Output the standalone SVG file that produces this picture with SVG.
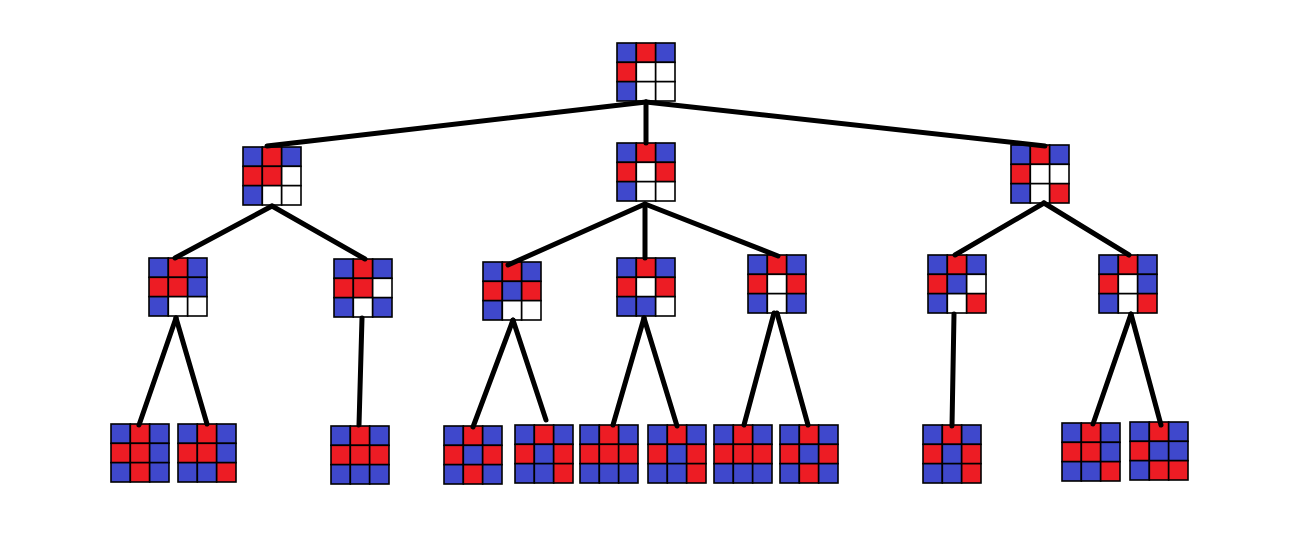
<svg xmlns="http://www.w3.org/2000/svg" width="1313" height="544" viewBox="0 0 1313 544">
  <style>
    .b { fill: #3f48cc; }
    .r { fill: #ed1c24; }
    .w { fill: #ffffff; }
    .node rect { stroke: #000; stroke-width: 1.6; }
    .edges line { stroke: #000; stroke-width: 5; stroke-linecap: round; }
  </style>
  <rect width="1313" height="544" fill="#fff"/>

  <!-- level 0 -->
  <g id="n0" class="node" transform="translate(617,43)">
    <rect class="b" x="0" y="0" width="19.33" height="19.33"/><rect class="r" x="19.33" y="0" width="19.33" height="19.33"/><rect class="b" x="38.67" y="0" width="19.33" height="19.33"/>
    <rect class="r" x="0" y="19.33" width="19.33" height="19.33"/><rect class="w" x="19.33" y="19.33" width="19.33" height="19.33"/><rect class="w" x="38.67" y="19.33" width="19.33" height="19.33"/>
    <rect class="b" x="0" y="38.67" width="19.33" height="19.33"/><rect class="w" x="19.33" y="38.67" width="19.33" height="19.33"/><rect class="w" x="38.67" y="38.67" width="19.33" height="19.33"/>
  </g>

  <!-- level 1 -->
  <g id="n1a" class="node" transform="translate(243,147)">
    <rect class="b" x="0" y="0" width="19.33" height="19.33"/><rect class="r" x="19.33" y="0" width="19.33" height="19.33"/><rect class="b" x="38.67" y="0" width="19.33" height="19.33"/>
    <rect class="r" x="0" y="19.33" width="19.33" height="19.33"/><rect class="r" x="19.33" y="19.33" width="19.33" height="19.33"/><rect class="w" x="38.67" y="19.33" width="19.33" height="19.33"/>
    <rect class="b" x="0" y="38.67" width="19.33" height="19.33"/><rect class="w" x="19.33" y="38.67" width="19.33" height="19.33"/><rect class="w" x="38.67" y="38.67" width="19.33" height="19.33"/>
  </g>
  <g id="n1b" class="node" transform="translate(617,143)">
    <rect class="b" x="0" y="0" width="19.33" height="19.33"/><rect class="r" x="19.33" y="0" width="19.33" height="19.33"/><rect class="b" x="38.67" y="0" width="19.33" height="19.33"/>
    <rect class="r" x="0" y="19.33" width="19.33" height="19.33"/><rect class="w" x="19.33" y="19.33" width="19.33" height="19.33"/><rect class="r" x="38.67" y="19.33" width="19.33" height="19.33"/>
    <rect class="b" x="0" y="38.67" width="19.33" height="19.33"/><rect class="w" x="19.33" y="38.67" width="19.33" height="19.33"/><rect class="w" x="38.67" y="38.67" width="19.33" height="19.33"/>
  </g>
  <g id="n1c" class="node" transform="translate(1011,145)">
    <rect class="b" x="0" y="0" width="19.33" height="19.33"/><rect class="r" x="19.33" y="0" width="19.33" height="19.33"/><rect class="b" x="38.67" y="0" width="19.33" height="19.33"/>
    <rect class="r" x="0" y="19.33" width="19.33" height="19.33"/><rect class="w" x="19.33" y="19.33" width="19.33" height="19.33"/><rect class="w" x="38.67" y="19.33" width="19.33" height="19.33"/>
    <rect class="b" x="0" y="38.67" width="19.33" height="19.33"/><rect class="w" x="19.33" y="38.67" width="19.33" height="19.33"/><rect class="r" x="38.67" y="38.67" width="19.33" height="19.33"/>
  </g>

  <!-- level 2 -->
  <g id="n2a" class="node" transform="translate(149,258)">
    <rect class="b" x="0" y="0" width="19.33" height="19.33"/><rect class="r" x="19.33" y="0" width="19.33" height="19.33"/><rect class="b" x="38.67" y="0" width="19.33" height="19.33"/>
    <rect class="r" x="0" y="19.33" width="19.33" height="19.33"/><rect class="r" x="19.33" y="19.33" width="19.33" height="19.33"/><rect class="b" x="38.67" y="19.33" width="19.33" height="19.33"/>
    <rect class="b" x="0" y="38.67" width="19.33" height="19.33"/><rect class="w" x="19.33" y="38.67" width="19.33" height="19.33"/><rect class="w" x="38.67" y="38.67" width="19.33" height="19.33"/>
  </g>
  <g id="n2b" class="node" transform="translate(334,259)">
    <rect class="b" x="0" y="0" width="19.33" height="19.33"/><rect class="r" x="19.33" y="0" width="19.33" height="19.33"/><rect class="b" x="38.67" y="0" width="19.33" height="19.33"/>
    <rect class="r" x="0" y="19.33" width="19.33" height="19.33"/><rect class="r" x="19.33" y="19.33" width="19.33" height="19.33"/><rect class="w" x="38.67" y="19.33" width="19.33" height="19.33"/>
    <rect class="b" x="0" y="38.67" width="19.33" height="19.33"/><rect class="w" x="19.33" y="38.67" width="19.33" height="19.33"/><rect class="b" x="38.67" y="38.67" width="19.33" height="19.33"/>
  </g>
  <g id="n2c" class="node" transform="translate(483,262)">
    <rect class="b" x="0" y="0" width="19.33" height="19.33"/><rect class="r" x="19.33" y="0" width="19.33" height="19.33"/><rect class="b" x="38.67" y="0" width="19.33" height="19.33"/>
    <rect class="r" x="0" y="19.33" width="19.33" height="19.33"/><rect class="b" x="19.33" y="19.33" width="19.33" height="19.33"/><rect class="r" x="38.67" y="19.33" width="19.33" height="19.33"/>
    <rect class="b" x="0" y="38.67" width="19.33" height="19.33"/><rect class="w" x="19.33" y="38.67" width="19.33" height="19.33"/><rect class="w" x="38.67" y="38.67" width="19.33" height="19.33"/>
  </g>
  <g id="n2d" class="node" transform="translate(617,258)">
    <rect class="b" x="0" y="0" width="19.33" height="19.33"/><rect class="r" x="19.33" y="0" width="19.33" height="19.33"/><rect class="b" x="38.67" y="0" width="19.33" height="19.33"/>
    <rect class="r" x="0" y="19.33" width="19.33" height="19.33"/><rect class="w" x="19.33" y="19.33" width="19.33" height="19.33"/><rect class="r" x="38.67" y="19.33" width="19.33" height="19.33"/>
    <rect class="b" x="0" y="38.67" width="19.33" height="19.33"/><rect class="b" x="19.33" y="38.67" width="19.33" height="19.33"/><rect class="w" x="38.67" y="38.67" width="19.33" height="19.33"/>
  </g>
  <g id="n2e" class="node" transform="translate(748,255)">
    <rect class="b" x="0" y="0" width="19.33" height="19.33"/><rect class="r" x="19.33" y="0" width="19.33" height="19.33"/><rect class="b" x="38.67" y="0" width="19.33" height="19.33"/>
    <rect class="r" x="0" y="19.33" width="19.33" height="19.33"/><rect class="w" x="19.33" y="19.33" width="19.33" height="19.33"/><rect class="r" x="38.67" y="19.33" width="19.33" height="19.33"/>
    <rect class="b" x="0" y="38.67" width="19.33" height="19.33"/><rect class="w" x="19.33" y="38.67" width="19.33" height="19.33"/><rect class="b" x="38.67" y="38.67" width="19.33" height="19.33"/>
  </g>
  <g id="n2f" class="node" transform="translate(928,255)">
    <rect class="b" x="0" y="0" width="19.33" height="19.33"/><rect class="r" x="19.33" y="0" width="19.33" height="19.33"/><rect class="b" x="38.67" y="0" width="19.33" height="19.33"/>
    <rect class="r" x="0" y="19.33" width="19.33" height="19.33"/><rect class="b" x="19.33" y="19.33" width="19.33" height="19.33"/><rect class="w" x="38.67" y="19.33" width="19.33" height="19.33"/>
    <rect class="b" x="0" y="38.67" width="19.33" height="19.33"/><rect class="w" x="19.33" y="38.67" width="19.33" height="19.33"/><rect class="r" x="38.67" y="38.67" width="19.33" height="19.33"/>
  </g>
  <g id="n2g" class="node" transform="translate(1099,255)">
    <rect class="b" x="0" y="0" width="19.33" height="19.33"/><rect class="r" x="19.33" y="0" width="19.33" height="19.33"/><rect class="b" x="38.67" y="0" width="19.33" height="19.33"/>
    <rect class="r" x="0" y="19.33" width="19.33" height="19.33"/><rect class="w" x="19.33" y="19.33" width="19.33" height="19.33"/><rect class="b" x="38.67" y="19.33" width="19.33" height="19.33"/>
    <rect class="b" x="0" y="38.67" width="19.33" height="19.33"/><rect class="w" x="19.33" y="38.67" width="19.33" height="19.33"/><rect class="r" x="38.67" y="38.67" width="19.33" height="19.33"/>
  </g>

  <!-- level 3 (leaves) -->
  <g id="n3a" class="node" transform="translate(111,424)">
    <rect class="b" x="0" y="0" width="19.33" height="19.33"/><rect class="r" x="19.33" y="0" width="19.33" height="19.33"/><rect class="b" x="38.67" y="0" width="19.33" height="19.33"/>
    <rect class="r" x="0" y="19.33" width="19.33" height="19.33"/><rect class="r" x="19.33" y="19.33" width="19.33" height="19.33"/><rect class="b" x="38.67" y="19.33" width="19.33" height="19.33"/>
    <rect class="b" x="0" y="38.67" width="19.33" height="19.33"/><rect class="r" x="19.33" y="38.67" width="19.33" height="19.33"/><rect class="b" x="38.67" y="38.67" width="19.33" height="19.33"/>
  </g>
  <g id="n3b" class="node" transform="translate(178,424)">
    <rect class="b" x="0" y="0" width="19.33" height="19.33"/><rect class="r" x="19.33" y="0" width="19.33" height="19.33"/><rect class="b" x="38.67" y="0" width="19.33" height="19.33"/>
    <rect class="r" x="0" y="19.33" width="19.33" height="19.33"/><rect class="r" x="19.33" y="19.33" width="19.33" height="19.33"/><rect class="b" x="38.67" y="19.33" width="19.33" height="19.33"/>
    <rect class="b" x="0" y="38.67" width="19.33" height="19.33"/><rect class="b" x="19.33" y="38.67" width="19.33" height="19.33"/><rect class="r" x="38.67" y="38.67" width="19.33" height="19.33"/>
  </g>
  <g id="n3c" class="node" transform="translate(331,426)">
    <rect class="b" x="0" y="0" width="19.33" height="19.33"/><rect class="r" x="19.33" y="0" width="19.33" height="19.33"/><rect class="b" x="38.67" y="0" width="19.33" height="19.33"/>
    <rect class="r" x="0" y="19.33" width="19.33" height="19.33"/><rect class="r" x="19.33" y="19.33" width="19.33" height="19.33"/><rect class="r" x="38.67" y="19.33" width="19.33" height="19.33"/>
    <rect class="b" x="0" y="38.67" width="19.33" height="19.33"/><rect class="b" x="19.33" y="38.67" width="19.33" height="19.33"/><rect class="b" x="38.67" y="38.67" width="19.33" height="19.33"/>
  </g>
  <g id="n3d" class="node" transform="translate(444,426)">
    <rect class="b" x="0" y="0" width="19.33" height="19.33"/><rect class="r" x="19.33" y="0" width="19.33" height="19.33"/><rect class="b" x="38.67" y="0" width="19.33" height="19.33"/>
    <rect class="r" x="0" y="19.33" width="19.33" height="19.33"/><rect class="b" x="19.33" y="19.33" width="19.33" height="19.33"/><rect class="r" x="38.67" y="19.33" width="19.33" height="19.33"/>
    <rect class="b" x="0" y="38.67" width="19.33" height="19.33"/><rect class="r" x="19.33" y="38.67" width="19.33" height="19.33"/><rect class="b" x="38.67" y="38.67" width="19.33" height="19.33"/>
  </g>
  <g id="n3e" class="node" transform="translate(515,425)">
    <rect class="b" x="0" y="0" width="19.33" height="19.33"/><rect class="r" x="19.33" y="0" width="19.33" height="19.33"/><rect class="b" x="38.67" y="0" width="19.33" height="19.33"/>
    <rect class="r" x="0" y="19.33" width="19.33" height="19.33"/><rect class="b" x="19.33" y="19.33" width="19.33" height="19.33"/><rect class="r" x="38.67" y="19.33" width="19.33" height="19.33"/>
    <rect class="b" x="0" y="38.67" width="19.33" height="19.33"/><rect class="b" x="19.33" y="38.67" width="19.33" height="19.33"/><rect class="r" x="38.67" y="38.67" width="19.33" height="19.33"/>
  </g>
  <g id="n3f" class="node" transform="translate(580,425)">
    <rect class="b" x="0" y="0" width="19.33" height="19.33"/><rect class="r" x="19.33" y="0" width="19.33" height="19.33"/><rect class="b" x="38.67" y="0" width="19.33" height="19.33"/>
    <rect class="r" x="0" y="19.33" width="19.33" height="19.33"/><rect class="r" x="19.33" y="19.33" width="19.33" height="19.33"/><rect class="r" x="38.67" y="19.33" width="19.33" height="19.33"/>
    <rect class="b" x="0" y="38.67" width="19.33" height="19.33"/><rect class="b" x="19.33" y="38.67" width="19.33" height="19.33"/><rect class="b" x="38.67" y="38.67" width="19.33" height="19.33"/>
  </g>
  <g id="n3g" class="node" transform="translate(648,425)">
    <rect class="b" x="0" y="0" width="19.33" height="19.33"/><rect class="r" x="19.33" y="0" width="19.33" height="19.33"/><rect class="b" x="38.67" y="0" width="19.33" height="19.33"/>
    <rect class="r" x="0" y="19.33" width="19.33" height="19.33"/><rect class="b" x="19.33" y="19.33" width="19.33" height="19.33"/><rect class="r" x="38.67" y="19.33" width="19.33" height="19.33"/>
    <rect class="b" x="0" y="38.67" width="19.33" height="19.33"/><rect class="b" x="19.33" y="38.67" width="19.33" height="19.33"/><rect class="r" x="38.67" y="38.67" width="19.33" height="19.33"/>
  </g>
  <g id="n3h" class="node" transform="translate(714,425)">
    <rect class="b" x="0" y="0" width="19.33" height="19.33"/><rect class="r" x="19.33" y="0" width="19.33" height="19.33"/><rect class="b" x="38.67" y="0" width="19.33" height="19.33"/>
    <rect class="r" x="0" y="19.33" width="19.33" height="19.33"/><rect class="r" x="19.33" y="19.33" width="19.33" height="19.33"/><rect class="r" x="38.67" y="19.33" width="19.33" height="19.33"/>
    <rect class="b" x="0" y="38.67" width="19.33" height="19.33"/><rect class="b" x="19.33" y="38.67" width="19.33" height="19.33"/><rect class="b" x="38.67" y="38.67" width="19.33" height="19.33"/>
  </g>
  <g id="n3i" class="node" transform="translate(780,425)">
    <rect class="b" x="0" y="0" width="19.33" height="19.33"/><rect class="r" x="19.33" y="0" width="19.33" height="19.33"/><rect class="b" x="38.67" y="0" width="19.33" height="19.33"/>
    <rect class="r" x="0" y="19.33" width="19.33" height="19.33"/><rect class="b" x="19.33" y="19.33" width="19.33" height="19.33"/><rect class="r" x="38.67" y="19.33" width="19.33" height="19.33"/>
    <rect class="b" x="0" y="38.67" width="19.33" height="19.33"/><rect class="r" x="19.33" y="38.67" width="19.33" height="19.33"/><rect class="b" x="38.67" y="38.67" width="19.33" height="19.33"/>
  </g>
  <g id="n3j" class="node" transform="translate(923,425)">
    <rect class="b" x="0" y="0" width="19.33" height="19.33"/><rect class="r" x="19.33" y="0" width="19.33" height="19.33"/><rect class="b" x="38.67" y="0" width="19.33" height="19.33"/>
    <rect class="r" x="0" y="19.33" width="19.33" height="19.33"/><rect class="b" x="19.33" y="19.33" width="19.33" height="19.33"/><rect class="r" x="38.67" y="19.33" width="19.33" height="19.33"/>
    <rect class="b" x="0" y="38.67" width="19.33" height="19.33"/><rect class="b" x="19.33" y="38.67" width="19.33" height="19.33"/><rect class="r" x="38.67" y="38.67" width="19.33" height="19.33"/>
  </g>
  <g id="n3k" class="node" transform="translate(1062,423)">
    <rect class="b" x="0" y="0" width="19.33" height="19.33"/><rect class="r" x="19.33" y="0" width="19.33" height="19.33"/><rect class="b" x="38.67" y="0" width="19.33" height="19.33"/>
    <rect class="r" x="0" y="19.33" width="19.33" height="19.33"/><rect class="r" x="19.33" y="19.33" width="19.33" height="19.33"/><rect class="b" x="38.67" y="19.33" width="19.33" height="19.33"/>
    <rect class="b" x="0" y="38.67" width="19.33" height="19.33"/><rect class="b" x="19.33" y="38.67" width="19.33" height="19.33"/><rect class="r" x="38.67" y="38.67" width="19.33" height="19.33"/>
  </g>
  <g id="n3l" class="node" transform="translate(1130,422)">
    <rect class="b" x="0" y="0" width="19.33" height="19.33"/><rect class="r" x="19.33" y="0" width="19.33" height="19.33"/><rect class="b" x="38.67" y="0" width="19.33" height="19.33"/>
    <rect class="r" x="0" y="19.33" width="19.33" height="19.33"/><rect class="b" x="19.33" y="19.33" width="19.33" height="19.33"/><rect class="b" x="38.67" y="19.33" width="19.33" height="19.33"/>
    <rect class="b" x="0" y="38.67" width="19.33" height="19.33"/><rect class="r" x="19.33" y="38.67" width="19.33" height="19.33"/><rect class="r" x="38.67" y="38.67" width="19.33" height="19.33"/>
  </g>

  <!-- parent-child links -->
  <g id="edges" class="edges">
    <line x1="646" y1="102" x2="267" y2="146"/>
    <line x1="646" y1="102" x2="646" y2="143"/>
    <line x1="646" y1="102" x2="1045" y2="146"/>

    <line x1="272" y1="206" x2="175" y2="258"/>
    <line x1="272" y1="206" x2="365" y2="259"/>
    <line x1="645" y1="204" x2="508" y2="265"/>
    <line x1="645" y1="204" x2="645" y2="258"/>
    <line x1="645" y1="204" x2="778" y2="256"/>
    <line x1="1044" y1="203" x2="955" y2="255"/>
    <line x1="1044" y1="203" x2="1129" y2="255"/>

    <line x1="176" y1="318" x2="139" y2="425"/>
    <line x1="176" y1="318" x2="207" y2="424"/>
    <line x1="362" y1="318" x2="359" y2="425"/>
    <line x1="513" y1="320" x2="473" y2="427"/>
    <line x1="513" y1="320" x2="546" y2="420"/>
    <line x1="644" y1="318" x2="613" y2="425"/>
    <line x1="644" y1="318" x2="677" y2="426"/>
    <line x1="774" y1="313" x2="744" y2="425"/>
    <line x1="777" y1="313" x2="808" y2="425"/>
    <line x1="954" y1="314" x2="952" y2="426"/>
    <line x1="1131" y1="314" x2="1093" y2="424"/>
    <line x1="1131" y1="314" x2="1161" y2="425"/>
  </g>
</svg>
